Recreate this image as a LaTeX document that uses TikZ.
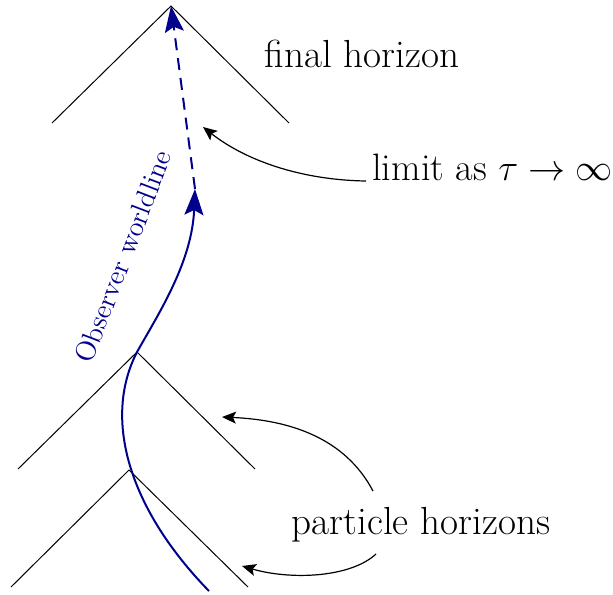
\documentclass[tikz,border=0pt]{standalone}
\usetikzlibrary{arrows.meta}
\definecolor{obsblue}{RGB}{0,0,140}
\begin{document}
\begin{tikzpicture}[x=0.5pt,y=-0.5pt,
  cone/.style={black,line width=0.5pt},
  world/.style={obsblue,line width=1pt},
  bigtip/.style={-{Stealth[length=13pt,width=9.5pt,inset=2.5pt]}},
  pointer/.style={black,line width=0.6pt,-{Stealth[length=7pt,width=6pt,inset=1.5pt]}},
  lbl/.style={font=\fontsize{17.8}{21}\selectfont,inner sep=0pt,scale=1.1}]
\useasboundingbox (0,0) rectangle (613,594);
% cones
\coordinate (A1) at (171,6);
\coordinate (A2) at (137,352);
\coordinate (A3) at (129,470);
\coordinate (L1) at (52,123);  \coordinate (R1) at (289,123);
\coordinate (L2) at (18,469);  \coordinate (R2) at (255,469);
\coordinate (L3) at (11,587);  \coordinate (R3) at (248,587);
\draw[cone] (L1) -- (A1) -- (R1);
\draw[cone] (L2) -- (A2) -- (R2);
\draw[cone] (L3) -- (A3) -- (R3);
% worldline
\coordinate (W0) at (209,591);
\coordinate (W1) at (195,189);
\draw[world,bigtip] (W0) .. controls (130,510) and (102,420) .. (A2)
  .. controls (159,313) and (192,262) .. (W1);
\draw[world,bigtip,dash pattern=on 6pt off 4pt] (W1) -- (A1);
% labels
\node[lbl,anchor=base] (fh) at (362,67) {final horizon};
\node[lbl,scale=0.975,anchor=base west] (lim) at (372,180) {limit as $\tau\to\infty$};
\node[lbl,anchor=base] (ph) at (421,534) {particle horizons};
\node[obsblue,font=\fontsize{14}{17}\selectfont,inner sep=0pt,anchor=base,rotate=69] (obs) at (132,260) {Observer worldline};
% pointers
\coordinate (T1) at (203,127);
\coordinate (T2) at (222,417);
\coordinate (T3) at (242,566);
\coordinate (S2) at (373,491);
\coordinate (S3) at (376,554);
\draw[pointer] ([xshift=-3pt,yshift=-0.5pt]lim.base west) .. controls (300,180) and (245,160) .. (T1);
\draw[pointer] (S2) .. controls (345,438) and (290,420) .. (T2);
\draw[pointer] (S3) .. controls (350,578) and (290,580) .. (T3);
\end{tikzpicture}
\end{document}
